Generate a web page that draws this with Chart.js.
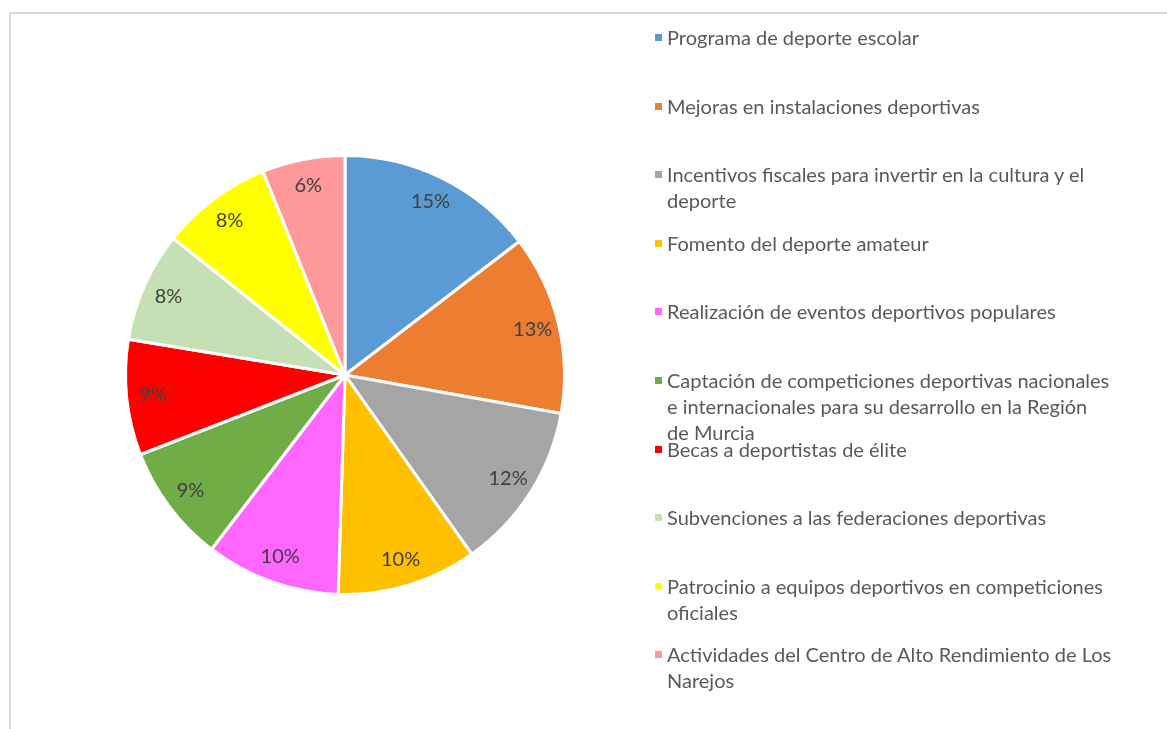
<!DOCTYPE html>
<html>
<head>
<meta charset="utf-8">
<script src="https://cdn.jsdelivr.net/npm/chart.js@4"></script>
<style>
  html, body { margin: 0; padding: 0; background: #fff; }
  #wrap { position: relative; width: 1167px; height: 729px; overflow: hidden; }
  #frame { position: absolute; left: 9px; top: 12px; width: 1170px; height: 740px; border: 2px solid #d9d9d9; box-sizing: border-box; }
  #c { position: absolute; left: 0; top: 0; }
  #legend { position: absolute; left: 0; top: 0; font-family: Lato, "Open Sans", sans-serif; font-size: 20px; color: #595959; }
  .item { position: absolute; left: 667px; line-height: 26px; white-space: nowrap; }
  .mk { position: absolute; left: -12px; top: 10px; width: 7px; height: 7px; }
</style>
</head>
<body>
<div id="wrap">
  <div id="frame"></div>
  <canvas id="c" width="1167" height="729"></canvas>
  <div id="legend"></div>
</div>
<script>
const categories = [
  ["Programa de deporte escolar"],
  ["Mejoras en instalaciones deportivas"],
  ["Incentivos fiscales para invertir en la cultura y el", "deporte"],
  ["Fomento del deporte amateur"],
  ["Realización de eventos deportivos populares"],
  ["Captación de competiciones deportivas nacionales", "e internacionales para su desarrollo en la Región", "de Murcia"],
  ["Becas a deportistas de élite"],
  ["Subvenciones a las federaciones deportivas"],
  ["Patrocinio a equipos deportivos en competiciones", "oficiales"],
  ["Actividades del Centro de Alto Rendimiento de Los", "Narejos"]
];
const values = [14.6, 13.2, 12.4, 10.3, 9.9, 8.7, 8.5, 8.1, 8.2, 6.1];
const colors = ["#5b9bd5", "#ed7d31", "#a5a5a5", "#ffc000", "#ff66ff", "#70ad47", "#ff0000", "#c5e0b4", "#ffff00", "#ff9999"];

const labelPlugin = {
  id: 'sliceLabels',
  afterDatasetsDraw(chart) {
    const ctx = chart.ctx;
    const meta = chart.getDatasetMeta(0);
    const data = chart.data.datasets[0].data;
    const total = data.reduce((a, b) => a + b, 0);
    ctx.save();
    ctx.font = '20px Lato, "Open Sans", sans-serif';
    ctx.fillStyle = '#404040';
    ctx.textAlign = 'center';
    ctx.textBaseline = 'middle';
    meta.data.forEach((arc, i) => {
      const p = arc.getProps(['x', 'y', 'startAngle', 'endAngle', 'outerRadius'], true);
      const mid = (p.startAngle + p.endAngle) / 2;
      const r = p.outerRadius * 0.88;
      const txt = Math.round(data[i] / total * 100) + '%';
      ctx.fillText(txt, p.x + Math.cos(mid) * r, p.y + Math.sin(mid) * r);
    });
    ctx.restore();
  }
};

new Chart(document.getElementById('c'), {
  type: 'pie',
  data: {
    labels: categories,
    datasets: [{
      data: values,
      backgroundColor: colors,
      borderColor: '#ffffff',
      borderWidth: 3
    }]
  },
  options: {
    responsive: false,
    animation: false,
    layout: { padding: { left: 124, right: 601, top: 154, bottom: 133 } },
    plugins: { legend: { display: false }, tooltip: { enabled: false } }
  },
  plugins: [labelPlugin]
});

const legend = document.getElementById('legend');
categories.forEach((lines, i) => {
  const d = document.createElement('div');
  d.className = 'item';
  d.style.top = (24 + i * 68.6) + 'px';
  const mk = document.createElement('div');
  mk.className = 'mk';
  mk.style.background = colors[i];
  d.appendChild(mk);
  d.innerHTML += lines.join('<br>');
  legend.appendChild(d);
});
</script>
</body>
</html>
